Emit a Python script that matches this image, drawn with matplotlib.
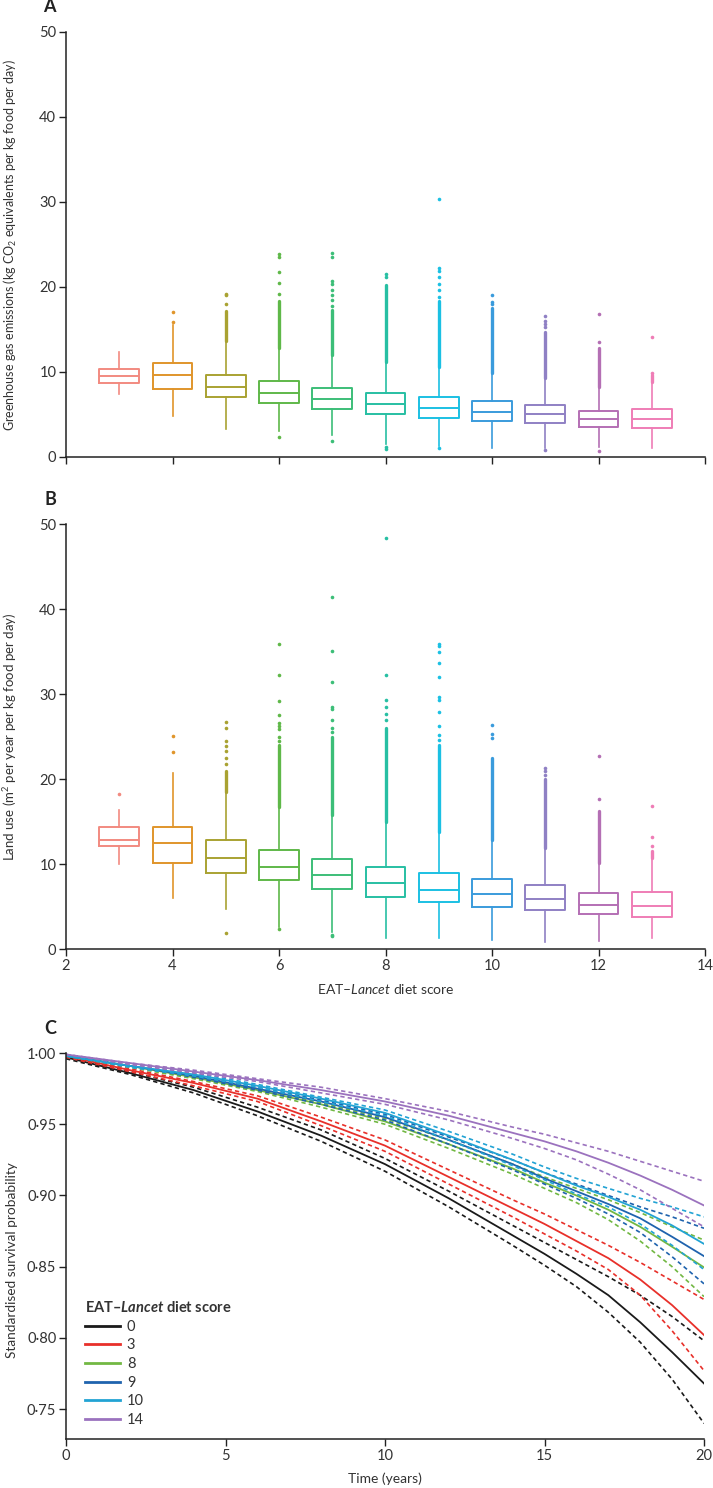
import numpy as np
import matplotlib
matplotlib.use("Agg")
import matplotlib.pyplot as plt
from matplotlib.ticker import FuncFormatter

plt.rcParams['font.family'] = ['Lato', 'DejaVu Sans']
plt.rcParams['mathtext.fontset'] = 'custom'
plt.rcParams['mathtext.rm'] = 'Lato'
plt.rcParams['mathtext.it'] = 'Lato:italic'
plt.rcParams['mathtext.bf'] = 'Lato:bold'
plt.rcParams['mathtext.bfit'] = 'Lato:bold:italic'

# ---- panel A / B : EAT-Lancet score boxes ----
scores = [3, 4, 5, 6, 7, 8, 9, 10, 11, 12, 13]
box_colors = ['#F28A80', '#E0952B', '#A9A232', '#5FB849', '#3CBE78', '#27BFA3',
              '#1BC0E3', '#3A9BDC', '#8F80C4', '#B46FB4', '#EF7DB6']

# greenhouse gas emissions
ghg_q1 = [8.75, 8.0, 7.0, 6.31, 5.65, 5.06, 4.63, 4.27, 3.96, 3.57, 3.41]
ghg_med = [9.57, 9.7, 8.27, 7.49, 6.82, 6.24, 5.76, 5.33, 5.02, 4.43, 4.5]
ghg_q3 = [10.4, 11.1, 9.7, 8.94, 8.16, 7.57, 7.06, 6.59, 6.12, 5.45, 5.6]
ghg_whislo = [7.4, 4.8, 3.25, 3.0, 2.6, 1.5, 1.3, 1.05, 1.1, 1.2, 1.05]
ghg_whishi = [12.35, 15.5, 13.6, 12.8, 12.0, 11.2, 10.6, 9.84, 9.25, 8.27, 8.86]
ghg_dense_top = [np.nan, np.nan, 17.2, 18.3, 17.3, 20.2, 18.3, 17.5, 14.7, 12.8, 9.6]
ghg_out_high = [[], [15.9, 17.0], [18.0, 19.0, 19.2], [19.2, 20.5, 21.8, 23.5, 23.9],
                [17.8, 18.5, 19.0, 19.6, 20.3, 20.7, 23.5, 24.0], [21.2, 21.5],
                [18.8, 19.6, 20.4, 21.2, 21.9, 22.2, 30.3], [18.0, 18.2, 19.0],
                [15.3, 15.7, 16.0, 16.6], [13.5, 16.8], [9.9, 14.1]]
ghg_out_low = [[], [], [], [2.3], [1.9], [0.9, 1.2], [1.0], [], [0.8], [0.7], []]

# land use
land_q1 = [12.1, 10.15, 8.98, 8.08, 7.1, 6.16, 5.5, 4.98, 4.59, 4.08, 3.8]
land_med = [12.8, 12.5, 10.67, 9.69, 8.7, 7.8, 7.0, 6.43, 5.88, 5.18, 5.06]
land_q3 = [14.4, 14.4, 12.8, 11.65, 10.6, 9.69, 8.9, 8.2, 7.53, 6.55, 6.67]
land_whislo = [9.96, 5.96, 4.67, 2.6, 2.0, 1.25, 1.25, 1.06, 0.86, 0.94, 1.33]
land_whishi = [16.35, 20.7, 18.5, 16.7, 15.8, 15.0, 13.8, 12.8, 11.85, 10.15, 10.67]
land_dense_top = [np.nan, np.nan, 21.0, 24.0, 25.0, 26.0, 24.0, 22.5, 20.0, 16.2, 11.5]
land_out_high = [[18.2], [23.2, 25.1], [21.8, 22.5, 23.3, 23.9, 24.5, 26.0, 26.7],
                 [24.5, 25.0, 25.9, 26.3, 26.6, 27.5, 29.2, 32.3, 35.9],
                 [25.5, 26.0, 26.9, 28.2, 28.5, 31.4, 35.1, 41.4],
                 [27.0, 27.7, 28.5, 29.3, 32.2, 48.4],
                 [24.6, 25.2, 26.2, 27.9, 29.3, 29.7, 32.0, 33.7, 35.0, 35.6, 35.9],
                 [24.8, 25.3, 26.4], [20.5, 20.9, 21.3], [17.7, 22.7], [12.1, 13.2, 16.8]]
land_out_low = [[], [], [1.84], [2.3], [1.5, 1.7], [], [], [], [], [], []]

# ---- panel C : standardised survival ----
time = [0, 2, 4, 6, 8, 10, 12, 14, 15, 16, 17, 18, 19, 20]
diet_groups = ['0', '3', '8', '9', '10', '14']
group_colors = ['#1a1a1a', '#E8302A', '#72B843', '#1F63AE', '#22A3D4', '#9B72BE']
surv = [
    [0.997, 0.986, 0.974, 0.959, 0.942, 0.922, 0.898, 0.872, 0.859, 0.845, 0.830, 0.811, 0.790, 0.768],
    [0.998, 0.988, 0.979, 0.968, 0.952, 0.935, 0.913, 0.891, 0.880, 0.868, 0.856, 0.841, 0.823, 0.802],
    [0.998, 0.991, 0.983, 0.974, 0.964, 0.952, 0.936, 0.919, 0.909, 0.900, 0.890, 0.878, 0.864, 0.8495],
    [0.998, 0.991, 0.984, 0.975, 0.966, 0.955, 0.939, 0.922, 0.912, 0.903, 0.894, 0.884, 0.871, 0.8574],
    [0.998, 0.991, 0.985, 0.977, 0.968, 0.958, 0.942, 0.925, 0.916, 0.907, 0.899, 0.890, 0.879, 0.866],
    [0.999, 0.993, 0.987, 0.981, 0.974, 0.966, 0.956, 0.944, 0.938, 0.931, 0.923, 0.914, 0.904, 0.893],
]
surv_upper = [
    [0.998, 0.987, 0.976, 0.962, 0.946, 0.926, 0.903, 0.879, 0.867, 0.855, 0.843, 0.830, 0.815, 0.798],
    [0.998, 0.989, 0.980, 0.970, 0.955, 0.939, 0.918, 0.897, 0.887, 0.876, 0.865, 0.853, 0.840, 0.827],
    [0.998, 0.991, 0.984, 0.975, 0.965, 0.954, 0.939, 0.922, 0.913, 0.905, 0.897, 0.888, 0.878, 0.8687],
    [0.998, 0.991, 0.985, 0.976, 0.967, 0.957, 0.941, 0.925, 0.916, 0.908, 0.900, 0.892, 0.885, 0.877],
    [0.999, 0.992, 0.986, 0.978, 0.969, 0.960, 0.945, 0.929, 0.920, 0.912, 0.905, 0.898, 0.892, 0.885],
    [0.999, 0.993, 0.988, 0.982, 0.976, 0.968, 0.959, 0.948, 0.943, 0.937, 0.931, 0.924, 0.917, 0.910],
]
surv_lower = [
    [0.996, 0.985, 0.972, 0.956, 0.938, 0.917, 0.892, 0.865, 0.851, 0.836, 0.818, 0.797, 0.771, 0.740],
    [0.997, 0.987, 0.977, 0.966, 0.949, 0.931, 0.908, 0.885, 0.873, 0.861, 0.848, 0.830, 0.805, 0.777],
    [0.998, 0.990, 0.982, 0.973, 0.962, 0.950, 0.933, 0.915, 0.905, 0.895, 0.883, 0.868, 0.850, 0.829],
    [0.998, 0.991, 0.983, 0.974, 0.964, 0.953, 0.936, 0.918, 0.908, 0.898, 0.887, 0.874, 0.857, 0.838],
    [0.998, 0.990, 0.984, 0.976, 0.966, 0.956, 0.939, 0.921, 0.911, 0.901, 0.892, 0.880, 0.865, 0.848],
    [0.999, 0.992, 0.986, 0.980, 0.972, 0.964, 0.953, 0.940, 0.933, 0.925, 0.915, 0.904, 0.891, 0.878],
]

axis_col = '#222222'
text_col = '#333333'


def style_axes(ax):
    for side in ['top', 'right']:
        ax.spines[side].set_visible(False)
    for side in ['left', 'bottom']:
        ax.spines[side].set_color(axis_col)
        ax.spines[side].set_linewidth(1.1)
    ax.tick_params(direction='out', length=5, width=1.0, color=axis_col,
                   labelsize=10.5, labelcolor=text_col, pad=2)


def draw_boxes(ax, q1, med, q3, lo, hi, dense_top, out_high, out_low):
    stats = []
    for i in range(len(scores)):
        stats.append(dict(q1=q1[i], med=med[i], q3=q3[i], whislo=lo[i], whishi=hi[i], fliers=[]))
    res = ax.bxp(stats, positions=scores, widths=0.75, showcaps=False, showfliers=False,
                 manage_ticks=False)
    for i, col in enumerate(box_colors):
        res['boxes'][i].set(color=col, linewidth=1.4)
        res['medians'][i].set(color=col, linewidth=1.4)
        res['whiskers'][2 * i].set(color=col, linewidth=1.2)
        res['whiskers'][2 * i + 1].set(color=col, linewidth=1.2)
        x = scores[i]
        if not np.isnan(dense_top[i]):
            ax.plot([x, x], [hi[i], dense_top[i]], color=col, lw=2.4, solid_capstyle='round')
        pts = out_high[i] + out_low[i]
        if pts:
            ax.plot([x] * len(pts), pts, 'o', color=col, ms=2.6, mec='none')


fig = plt.figure(figsize=(7.13, 14.88), dpi=100)

# panel A
axA = fig.add_axes([0.0926, 0.6929, 0.8962, 0.2856])
draw_boxes(axA, ghg_q1, ghg_med, ghg_q3, ghg_whislo, ghg_whishi, ghg_dense_top, ghg_out_high, ghg_out_low)
axA.set_xlim(2, 14)
axA.set_ylim(0, 50)
axA.set_xticks(range(2, 15, 2))
axA.set_xticklabels([])
axA.set_yticks(range(0, 51, 10))
style_axes(axA)
axA.set_ylabel('Greenhouse gas emissions (kg CO$_2$ equivalents per kg food per day)',
               fontsize=9.0, color=text_col)
axA.yaxis.set_label_coords(-0.074, 0.5)

# panel B
axB = fig.add_axes([0.0926, 0.3622, 0.8962, 0.2856])
draw_boxes(axB, land_q1, land_med, land_q3, land_whislo, land_whishi, land_dense_top, land_out_high, land_out_low)
axB.set_xlim(2, 14)
axB.set_ylim(0, 50)
axB.set_xticks(range(2, 15, 2))
axB.set_yticks(range(0, 51, 10))
style_axes(axB)
axB.set_ylabel('Land use (m$^2$ per year per kg food per day)', fontsize=9.5, color=text_col)
axB.yaxis.set_label_coords(-0.074, 0.5)
axB.set_xlabel('EAT–$\\mathit{Lancet}$ diet score', fontsize=10, color=text_col, labelpad=7)

# panel C
axC = fig.add_axes([0.0926, 0.0329, 0.8948, 0.2594])
for i in range(len(diet_groups)):
    col = group_colors[i]
    for band in (surv_upper[i], surv_lower[i]):
        ln, = axC.plot(time, band, color=col, lw=1.2)
        ln.set_dashes([2.6, 1.9])
    axC.plot(time, surv[i], color=col, lw=1.3, label=diet_groups[i])
axC.set_xlim(0, 20)
axC.set_ylim(0.729, 1.0)
axC.set_xticks([0, 5, 10, 15, 20])
axC.set_yticks([0.75, 0.80, 0.85, 0.90, 0.95, 1.00])
axC.yaxis.set_major_formatter(FuncFormatter(lambda v, p: f'{v:.2f}'.replace('.', '\u00b7')))
style_axes(axC)
axC.set_ylabel('Standardised survival probability', fontsize=9.8, color=text_col)
axC.yaxis.set_label_coords(-0.076, 0.464)
axC.set_xlabel('Time (years)', fontsize=10, color=text_col, labelpad=7)
leg = axC.legend(title='EAT–$\\mathbfit{Lancet}$ diet score', loc='upper left',
                 bbox_to_anchor=(0.02, 0.375), frameon=False, fontsize=10.5,
                 handlelength=2.4, handletextpad=0.5, labelspacing=0.32,
                 alignment='left', borderaxespad=0)
leg.get_title().set_fontweight('bold')
leg.get_title().set_fontsize(10.5)
leg.get_title().set_color(text_col)
for t in leg.get_texts():
    t.set_color(text_col)
for h in leg.legend_handles:
    h.set_linewidth(2.0)

# panel letters
fig.text(0.0695, 1 - 7 / 1488, 'A', fontsize=13, fontweight='bold', ha='center', va='center', color=axis_col)
fig.text(0.0701, 1 - 500 / 1488, 'B', fontsize=13, fontweight='bold', ha='center', va='center', color=axis_col)
fig.text(0.0708, 1 - 1028 / 1488, 'C', fontsize=13, fontweight='bold', ha='center', va='center', color=axis_col)

fig.savefig('out.png', dpi=100)
